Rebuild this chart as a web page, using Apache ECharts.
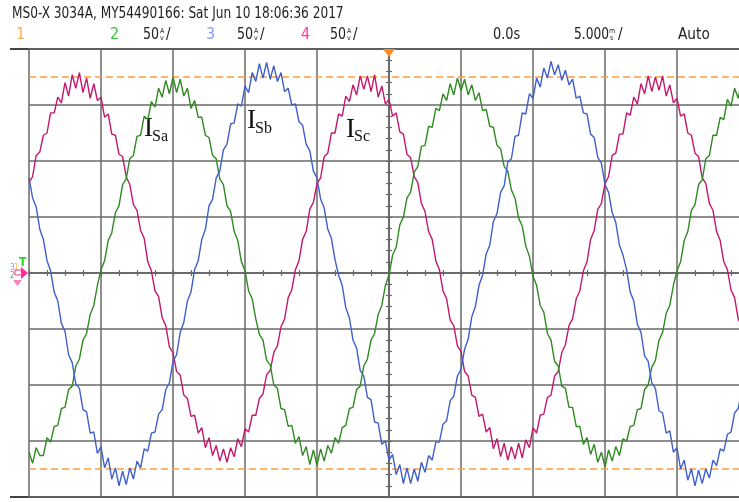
<!DOCTYPE html>
<html>
<head>
<meta charset="utf-8">
<script src="https://cdn.jsdelivr.net/npm/echarts@6/dist/echarts.min.js"></script>
<style>
  html, body { margin: 0; padding: 0; background: #fff; }
  #scope { width: 739px; height: 502px; }
</style>
</head>
<body>
<div id="scope"></div>
<script>
// Three phase source currents, sampled every 0.25 ms from -25 ms (amps)
const sampleStartMs = -25;
const sampleStepMs = 0.25;

const currentSa = [
  -160, -170, -156, -163, -163, -147, -151, -137, -136, -121, -120, -104, -101, -83, -77, -60, -54, -37, -29, -11,
  3, 11, 29, 36, 54, 60, 79, 84, 102, 105, 122, 123, 140, 137, 153, 148, 165, 157, 172, 160, 175,
  161, 173, 158, 165, 147, 154, 139, 139, 123, 121, 105, 102, 84, 79, 60, 55, 37, 29, 10,
  2, -16, -23, -41, -55, -60, -78, -82, -100, -103, -121, -122, -137, -136, -152, -146, -163, -155, -171, -158, -172,
  -157, -168, -154, -161, -147, -152, -138, -136, -121, -120, -104, -101, -83, -77, -60, -54, -37, -29, -11,
  -2, 16, 23, 43, 50, 67, 72, 90, 95, 113, 114, 131, 130, 147, 145, 160, 154, 169, 159, 174, 163,
  173, 159, 168, 154, 161, 145, 146, 131, 130, 114, 111, 95, 91, 74, 67, 49, 42, 24, 15,
  -3, -11, -29, -35, -54, -60, -79, -83, -101, -103, -120, -120, -137, -137, -153, -147, -162, -153, -169, -160, -173,
  -158, -168, -155, -163, -148, -150, -137, -136, -122, -121, -104, -100, -84, -78, -60, -53, -36, -29, -11,
  2, 10, 29, 37, 56, 61, 79, 83, 102, 105, 123, 123, 139, 137, 155, 149, 165, 156, 172, 161
];
const currentSb = [
  85, 67, 59, 39, 30, 11,
  2, -17, -25, -45, -52, -73, -80, -99, -103, -122, -124, -143, -142, -161, -155, -174, -165, -184, -174, -190, -177,
  -189, -174, -184, -168, -174, -157, -159, -143, -142, -126, -122, -104, -98, -79, -73, -53, -44, -25, -17,
  3, 11, 30, 39, 60, 66, 85, 91, 110, 115, 133, 134, 151, 149, 167, 161, 179, 171, 187, 174, 188,
  173, 185, 171, 179, 162, 165, 150, 151, 135, 132, 115, 109, 91, 85, 66, 58, 39, 31, 12,
  -2, -11, -31, -40, -60, -67, -87, -92, -111, -113, -133, -134, -153, -150, -167, -162, -180, -171, -188, -174, -188,
  -175, -186, -169, -178, -163, -167, -151, -151, -135, -132, -114, -110, -92, -86, -68, -59, -39, -30, -11,
  -2, 17, 25, 46, 53, 72, 78, 99, 102, 122, 123, 143, 142, 160, 156, 174, 166, 183, 174, 189, 177,
  186, 172, 181, 168, 173, 156, 158, 143, 142, 124, 121, 103, 98, 79, 72, 54, 45, 25, 16,
  3, -17, -25, -46, -53, -74, -79, -98, -103, -123, -125, -143, -141, -160, -156, -175, -167, -185, -175, -190, -176,
  -188, -175, -183, -167, -172, -157, -159, -144, -142, -125, -121, -104, -98
];
const currentSc = [
  81, 86, 105, 108, 123, 125, 143, 143, 157, 152, 170, 158, 177, 165, 179,
  161, 174, 156, 169, 154, 157, 139, 142, 124, 123, 106, 104, 86, 79, 61, 56, 38, 31, 10,
  2, -16, -21, -40, -47, -66, -71, -88, -91, -109, -112, -128, -127, -143, -138, -156, -147, -163, -154, -168, -157,
  -169, -156, -164, -148, -155, -139, -142, -127, -127, -112, -108, -91, -87, -71, -65, -48, -41, -22, -15,
  3, 11, 30, 37, 57, 63, 80, 85, 104, 107, 125, 125, 142, 140, 158, 153, 168, 159, 176, 164, 176,
  162, 177, 157, 167, 151, 155, 140, 143, 126, 124, 106, 103, 86, 81, 62, 55, 37, 30, 11,
  3, -16, -23, -42, -47, -65, -70, -88, -92, -109, -111, -128, -126, -142, -138, -157, -148, -164, -152, -167, -155,
  -166, -152, -165, -149, -156, -138, -143, -127, -126, -111, -109, -92, -88, -71, -64, -47, -41, -23, -16,
  2, 10, 30, 38, 57, 62, 80, 86, 105, 107, 124, 124, 143, 141, 157, 151, 169, 160, 176, 162, 175,
  163, 176, 158, 168, 152, 156, 140, 142, 125, 123, 107, 104, 85, 80, 62, 56, 37, 29, 10,
  3, -15, -22, -41, -48, -65
];

// Cursor levels (A) and trigger position (ms)
const cursorLevels = [175, -175];
const triggerTimeMs = 0;

// Header readouts
const headerTitle = 'MS0-X 3034A, MY54490166: Sat Jun 10 18:06:36 2017';
const channelTags = ['1', '2', '3', '4'];
const channelScale = '50';
const timeOffsetText = '0.0s';
const timeScaleText = '5.000';
const triggerModeText = 'Auto';

const colA = '#2f8a22';
const colB = '#3f5fcc';
const colC = '#c4176f';
const gridCol = '#686868';
const narrow = "'Liberation Sans Narrow', 'DejaVu Sans Condensed', 'Roboto Condensed', sans-serif";
const serif = "'Liberation Serif', 'DejaVu Serif', serif";

function toPairs(values) {
  return values.map((v, i) => [sampleStartMs + i * sampleStepMs, v]);
}

const chart = echarts.init(document.getElementById('scope'), null, { renderer: 'canvas' });

const baseX = { type: 'value', min: -25, max: 25, interval: 5, gridIndex: 0 };
const baseY = { type: 'value', min: -200, max: 200, interval: 50, gridIndex: 0 };

function centerAxis(base, inside, minorSplit) {
  return Object.assign({}, base, {
    axisLine: { show: true, onZero: true, onZeroAxisIndex: 0, lineStyle: { color: gridCol, width: 1.5 } },
    axisTick: { show: true, inside: inside, length: 3, lineStyle: { color: gridCol, width: 1.2 } },
    minorTick: { show: true, splitNumber: minorSplit, length: 3, lineStyle: { color: gridCol, width: 1.2 } },
    axisLabel: { show: false },
    splitLine: { show: false }
  });
}

function seriesFor(values, color, extra) {
  return Object.assign({
    type: 'line',
    data: toPairs(values),
    showSymbol: false,
    symbol: 'none',
    animation: false,
    clip: true,
    lineStyle: { color: color, width: 1.4 },
    z: 5
  }, extra || {});
}

function text(x, y, str, opts, sx) {
  return {
    type: 'text',
    silent: true,
    x: x, y: y,
    scaleX: sx || 1,
    style: Object.assign({
      x: 0, y: 0, text: str, fill: '#222', font: '15px ' + narrow,
      align: 'left', verticalAlign: 'middle'
    }, opts || {})
  };
}

const graphics = [
  // frame rules above and below the screen
  { type: 'line', silent: true, shape: { x1: 10, y1: 49, x2: 739, y2: 49 }, style: { stroke: '#444', lineWidth: 2 } },
  { type: 'line', silent: true, shape: { x1: 10, y1: 497, x2: 739, y2: 497 }, style: { stroke: '#444', lineWidth: 2 } },
  text(12, 14, headerTitle, { font: '15px ' + narrow, fill: '#1e1e1e' }, 0.9),
  text(16, 35, channelTags[0], { fill: '#ffae5a', font: '16px ' + narrow }),
  text(110, 35, channelTags[1], { fill: '#3cc43c', font: '16px ' + narrow }),
  text(143, 35, channelScale, { font: '16px ' + narrow }, 0.88),
  text(160, 31, 'A', { font: '7px ' + narrow }),
  text(160, 38, 'v', { font: '7px ' + narrow }),
  text(166, 35, '/', { font: '15px ' + narrow }),
  text(206, 35, channelTags[2], { fill: '#7f9dff', font: '16px ' + narrow }),
  text(237, 35, channelScale, { font: '16px ' + narrow }, 0.88),
  text(254, 31, 'A', { font: '7px ' + narrow }),
  text(254, 38, 'v', { font: '7px ' + narrow }),
  text(260, 35, '/', { font: '15px ' + narrow }),
  text(301, 35, channelTags[3], { fill: '#ff3b9a', font: '16px ' + narrow }),
  text(330, 35, channelScale, { font: '16px ' + narrow }, 0.88),
  text(347, 31, 'A', { font: '7px ' + narrow }),
  text(347, 38, 'v', { font: '7px ' + narrow }),
  text(353, 35, '/', { font: '15px ' + narrow }),
  text(493, 35, timeOffsetText, { font: '16px ' + narrow }, 0.9),
  text(574, 35, timeScaleText, { font: '16px ' + narrow }, 0.85),
  text(609, 31, 'm', { font: '7px ' + narrow }),
  text(610, 38, 's', { font: '7px ' + narrow }),
  text(618, 35, '/', { font: '15px ' + narrow }),
  text(678, 35, triggerModeText, { font: '16px ' + narrow }, 0.95),
  // channel ground / trigger level markers on the left edge
  text(19, 263, 'T', { fill: '#33cc33', font: 'bold 12px ' + narrow }),
  text(10, 268, '3', { fill: '#7f9dff', font: '8px ' + narrow }),
  text(14, 268, '1', { fill: '#ffae5a', font: '8px ' + narrow }),
  text(10, 276, '2', { fill: '#33cc33', font: '8px ' + narrow }),
  { type: 'polygon', silent: true, shape: { points: [[21, 267], [28, 273], [21, 279]] }, style: { fill: '#ff2d95' } },
  { type: 'rect', silent: true, shape: { x: 15, y: 270, width: 7, height: 5 }, style: { fill: 'none', stroke: '#ff2d95', lineWidth: 1 } },
  { type: 'polygon', silent: true, shape: { points: [[13, 280], [22, 280], [17.5, 286]] }, style: { fill: '#ff7fbf' } },
  // phase labels
  text(144, 129, 'I', { font: '27px ' + serif, fill: '#111' }),
  text(152, 137, 'Sa', { font: '16px ' + serif, fill: '#111' }),
  text(247, 121, 'I', { font: '27px ' + serif, fill: '#111' }),
  text(255, 129, 'Sb', { font: '16px ' + serif, fill: '#111' }),
  text(346, 130, 'I', { font: '27px ' + serif, fill: '#111' }),
  text(354, 137, 'Sc', { font: '16px ' + serif, fill: '#111' })
];

const option = {
  backgroundColor: '#ffffff',
  animation: false,
  grid: { left: 29, top: 49, width: 720, height: 448, containLabel: false, outerBoundsMode: 'none', show: false },
  xAxis: [
    Object.assign({}, baseX, {
      axisLine: { show: false }, axisTick: { show: false }, axisLabel: { show: false },
      splitLine: { show: true, lineStyle: { color: gridCol, width: 1.5 } }
    }),
    centerAxis(baseX, false, 4),
    centerAxis(baseX, true, 4)
  ],
  yAxis: [
    Object.assign({}, baseY, {
      axisLine: { show: false }, axisTick: { show: false }, axisLabel: { show: false },
      splitLine: { show: true, lineStyle: { color: gridCol, width: 1.5 } }
    }),
    centerAxis(baseY, false, 5),
    centerAxis(baseY, true, 5)
  ],
  series: [
    seriesFor(currentSc, colC, {
      markLine: {
        silent: true, symbol: 'none', animation: false,
        label: { show: false },
        lineStyle: { color: '#ff9d3c', type: [7, 4], width: 1.6 },
        data: cursorLevels.map(v => ({ yAxis: v }))
      },
      markPoint: {
        silent: true, animation: false,
        data: [{ coord: [triggerTimeMs, 200], symbol: 'triangle', symbolRotate: 180, symbolSize: [12, 8], symbolOffset: [0, 4],
                 itemStyle: { color: '#ff8c1a' }, label: { show: false } }]
      }
    }),
    seriesFor(currentSa, colA),
    seriesFor(currentSb, colB)
  ],
  graphic: graphics
};

chart.setOption(option);
</script>
</body>
</html>
